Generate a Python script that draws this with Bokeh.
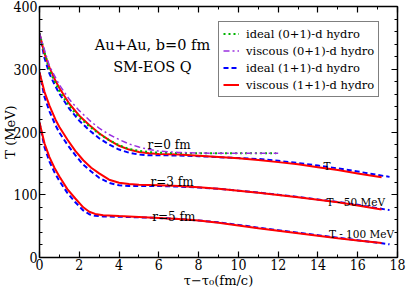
from bokeh.plotting import figure
from bokeh.models import (LinearAxis, Label, Legend, LegendItem, Range1d,
                          SingleIntervalTicker, CustomJSTickFormatter)
from bokeh.embed import file_html
from bokeh.resources import INLINE

# ---- data ----
tau_r0_id01 = [0, 0.5, 1, 1.5, 2, 2.5, 3, 3.5, 4, 4.5, 5, 5.5, 6, 7, 8, 9, 10, 11, 11.9]
T_r0_id01 = [357, 298, 265, 241, 223, 209, 197, 187, 179, 173, 170, 168, 167, 166.5, 166, 166, 166, 166, 166]

tau_r0_vi01 = [0, 0.5, 1, 1.5, 2, 2.5, 3, 3.5, 4, 4.5, 5, 5.5, 6, 7, 8, 9, 10, 11, 12]
T_r0_vi01 = [357, 305, 275, 252, 234, 219, 206, 196, 188, 181, 176, 172, 169.5, 167.5, 166.5, 166, 166, 166, 166]

tau_r0_vi11 = [0, 0.25, 0.5, 0.75, 1, 1.5, 2, 2.5, 3, 3.5, 4, 4.5, 5, 5.5, 6, 7, 8, 9, 10, 11, 12, 13, 14, 15, 16, 17.2]
T_r0_vi11 = [357, 325, 303, 285, 270, 245, 226, 211, 198, 187, 178, 172, 168, 166, 165, 164, 162, 160, 158, 155.5, 152, 148.5, 144, 139.5, 134, 128]

tau_r0_id11 = [0, 0.25, 0.5, 0.75, 1, 1.5, 2, 2.5, 3, 3.5, 4, 4.5, 5, 5.5, 6, 7, 8, 9, 10, 11, 12, 13, 14, 15, 16, 17, 17.6]
T_r0_id11 = [357, 318, 293, 276, 261, 237, 218, 203, 190, 180, 172, 167, 164, 163, 163, 162.5, 161.5, 160, 158.5, 157, 154, 150.5, 146.5, 142, 137, 131.5, 128.5]

tau_r3_vi11 = [0, 0.25, 0.5, 0.8, 1, 1.4, 1.8, 2.2, 2.6, 3, 3.5, 4, 4.5, 5, 6, 7, 8, 9, 10, 11, 12, 13, 14, 15, 16, 17.2]
T_r3_vi11 = [295, 264, 242, 220, 208, 188, 170, 155, 143, 134, 124, 119, 117, 116, 115, 114, 112, 109.5, 106.5, 103, 99.5, 96, 92, 88, 83, 76.5]

tau_r3_id11 = [0, 0.25, 0.5, 0.8, 1, 1.4, 1.8, 2.2, 2.6, 3, 3.5, 4, 4.5, 5, 6, 7, 8, 9, 10, 11, 12, 13, 14, 15, 16, 17, 17.6]
T_r3_id11 = [295, 256, 233, 211, 199, 180, 163, 148, 137, 127, 119, 115, 114, 114, 114, 113, 111.5, 109.5, 106.5, 103.5, 100, 96.5, 92.5, 88.5, 84, 78.5, 75.5]

tau_r5_vi11 = [0, 0.25, 0.5, 0.75, 1, 1.4, 1.8, 2.2, 2.5, 2.8, 3.2, 4, 5, 6, 7, 8, 9, 10, 11, 12, 13, 14, 15, 16, 17.2]
T_r5_vi11 = [215, 182, 160, 143, 129, 109, 94, 80, 73, 69.5, 67.5, 66, 64.5, 63, 61.5, 59, 55.5, 51, 46.5, 42.5, 38.5, 34.5, 30.5, 27, 23]

tau_r5_id11 = [0, 0.25, 0.5, 0.75, 1, 1.4, 1.8, 2.2, 2.5, 2.8, 3.2, 4, 5, 6, 7, 8, 9, 10, 11, 12, 13, 14, 15, 16, 17, 17.6]
T_r5_id11 = [215, 176, 153, 136, 122, 103, 88, 75, 69, 66.5, 65.5, 65, 64, 63, 61.5, 59, 56, 52, 47.5, 43.5, 39.5, 35.5, 31.5, 27.5, 23.5, 21]

legend_labels = ["ideal (0+1)-d hydro", "viscous (0+1)-d hydro",
                 "ideal (1+1)-d hydro", "viscous (1+1)-d hydro"]

SERIF = "DejaVu Serif"
F_TICK = "DejaVu Serif Condensed"
GREEN = "#00b400"
VIOLET = "#9a30e0"
BLUE = "#0000ff"
RED = "#ff0000"

p = figure(width=407, height=292, output_backend="svg", toolbar_location=None,
           x_range=Range1d(0, 18), y_range=Range1d(0, 400),
           min_border_left=39, min_border_right=10, min_border_top=6,
           min_border_bottom=35)
p.outline_line_color = None
p.xgrid.visible = False
p.ygrid.visible = False
p.background_fill_color = "white"
p.border_fill_color = "white"

def style_axis(ax, labels=True):
    ax.axis_line_color = "black"
    ax.axis_line_width = 1.5
    ax.major_tick_in = 6
    ax.major_tick_out = 0
    ax.minor_tick_in = 3
    ax.minor_tick_out = 0
    ax.major_tick_line_width = 1.2
    ax.minor_tick_line_width = 1
    ax.major_label_text_font = F_TICK
    ax.major_label_text_font_size = "14px"
    ax.major_label_text_color = "black"
    ax.axis_label_text_font = SERIF
    ax.axis_label_text_font_size = "13px"
    ax.axis_label_text_font_style = "normal"
    ax.axis_label_text_color = "black"
    if not labels:
        ax.formatter = CustomJSTickFormatter(code="return ''")
        ax.major_label_text_font_size = "0px"
        ax.major_label_standoff = 0

p.xaxis.ticker = SingleIntervalTicker(interval=2, num_minor_ticks=2)
p.yaxis.ticker = SingleIntervalTicker(interval=100, num_minor_ticks=5)
style_axis(p.xaxis[0])
style_axis(p.yaxis[0])
p.xaxis.major_label_standoff = 1
p.yaxis.major_label_standoff = 2
p.xaxis.axis_label = "τ−τ₀(fm/c)"
p.xaxis.axis_label_standoff = 0
p.yaxis.axis_label = "T (MeV)"
p.yaxis.axis_label_standoff = -8

top = LinearAxis(ticker=SingleIntervalTicker(interval=2, num_minor_ticks=2))
style_axis(top, labels=False)
p.add_layout(top, "above")
right = LinearAxis(ticker=SingleIntervalTicker(interval=100, num_minor_ticks=5))
style_axis(right, labels=False)
p.add_layout(right, "right")

# curves
b0 = p.line(tau_r0_id11, T_r0_id11, line_color=BLUE, line_width=2, line_dash="5 3")
p.line(tau_r3_id11, T_r3_id11, line_color=BLUE, line_width=2, line_dash="5 3")
p.line(tau_r5_id11, T_r5_id11, line_color=BLUE, line_width=2, line_dash="5 3")
r0 = p.line(tau_r0_vi11, T_r0_vi11, line_color=RED, line_width=2)
p.line(tau_r3_vi11, T_r3_vi11, line_color=RED, line_width=2)
p.line(tau_r5_vi11, T_r5_vi11, line_color=RED, line_width=2)
g0 = p.line(tau_r0_id01, T_r0_id01, line_color=GREEN, line_width=2, line_dash="2 3")
v0 = p.line(tau_r0_vi01, T_r0_vi01, line_color=VIOLET, line_width=1.5, line_dash="6 3 2 3")

legend = Legend(items=[LegendItem(label=legend_labels[0], renderers=[g0]),
                       LegendItem(label=legend_labels[1], renderers=[v0]),
                       LegendItem(label=legend_labels[2], renderers=[b0]),
                       LegendItem(label=legend_labels[3], renderers=[r0])],
                location=(179, 160))
legend.border_line_color = "black"
legend.border_line_width = 1
legend.background_fill_color = "white"
legend.background_fill_alpha = 1
legend.label_text_font = SERIF
legend.label_text_font_size = "11.5px"
legend.label_text_color = "black"
legend.glyph_width = 16
legend.glyph_height = 15
legend.label_height = 15
legend.label_standoff = 7
legend.spacing = 2
legend.padding = 4
legend.margin = 0
p.add_layout(legend)

def lab(x, y, text, size="12px", align="left", baseline="alphabetic", font=SERIF):
    p.add_layout(Label(x=x, y=y, text=text, text_font=font, text_font_size=size,
                       text_align=align, text_baseline=baseline,
                       text_color="black"))

lab(5.68, 338, "Au+Au, b=0 fm", size="14.5px", align="center")
lab(5.68, 303, "SM-EOS Q", size="14.5px", align="center")
lab(5.43, 178.5, "r=0 fm")
lab(5.58, 120.3, "r=3 fm")
lab(5.67, 65.3, "r=5 fm")
lab(14.28, 146.6, "T", size="10.5px")
lab(14.43, 88.3, "T - 50 MeV", size="10.5px")
lab(14.55, 37, "T - 100 MeV", size="10.5px")

open("out.html", "w").write(file_html(p, INLINE))
